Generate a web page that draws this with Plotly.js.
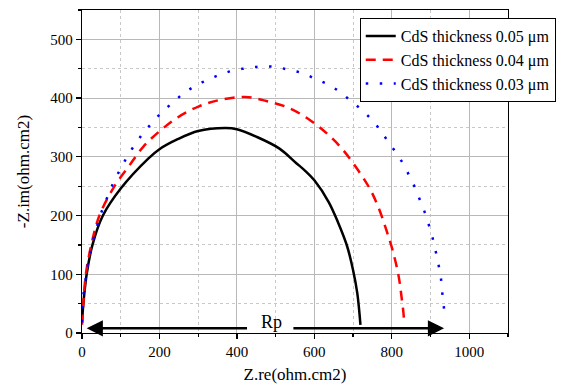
<!DOCTYPE html>
<html>
<head>
<meta charset="utf-8">
<script src="https://cdn.plot.ly/plotly-3.0.1.min.js"></script>
<style>html,body{margin:0;padding:0;background:#fff;}#chart{width:566px;height:385px;}</style>
</head>
<body>
<div id="chart"></div>
<script>
// Series names
const seriesNames = ["CdS thickness 0.05 \u03bcm", "CdS thickness 0.04 \u03bcm", "CdS thickness 0.03 \u03bcm"];

// 0.05 um (black, solid)
const zre05 = [0, 3.5, 12, 27, 54, 100, 171, 200, 247, 300, 370, 400, 451, 510, 552, 575, 600, 637, 662, 684, 700, 711, 719];
const zim05 = [17, 50, 100, 150, 200, 246, 297, 313, 330, 344, 349, 347, 334, 314, 290, 277, 260, 223, 187, 149, 107, 67, 14];

// 0.04 um (red, dashed)
const zre04 = [0, 3.5, 10, 24, 45, 84, 120, 158, 201, 247, 302, 357, 421, 476, 535, 590, 637, 675, 713, 743, 766, 786, 802, 817, 825, 831, 830];
const zim04 = [14, 50, 100, 150, 200, 250, 283, 317, 344, 367, 386, 397, 402, 395, 383, 362, 337, 311, 277, 246, 213, 175, 141, 99, 62, 25, 15];

// 0.03 um (blue, dotted)
const zre03 = [0, 1, 3, 8, 14, 20, 27, 36, 46, 58, 71, 85, 102, 118, 139, 160, 184, 209, 236, 262, 293, 324, 357, 391, 427, 463, 500, 535, 571, 605, 639, 671, 698, 726, 751, 773, 791, 812, 831, 847, 861, 874, 887, 897, 906, 914, 921, 927, 930, 934, 937];
const zim03 = [18, 40, 62, 85, 112, 131, 154, 175, 198, 219, 240, 262, 282, 302, 323, 342, 360, 378, 393, 408, 421, 431, 440, 447, 451, 454, 453, 448, 442, 432, 422, 408, 393, 378, 361, 343, 325, 306, 286, 265, 246, 224, 202, 181, 160, 137, 115, 92, 70, 47, 24];

// Rp arrow (data units)
const rpLeftTip = [12, 8], rpLeftTail = [430, 8];
const rpRightTip = [935, 8], rpRightTail = [542, 8];
const rpLabel = ["Rp", 490, 19];

const serif = "Liberation Serif, Times New Roman, DejaVu Serif, serif";

const traces = [
  {x: zre05, y: zim05, name: seriesNames[0], mode: 'lines', line: {color: '#000000', width: 2.5, shape: 'spline', smoothing: 1}},
  {x: zre04, y: zim04, name: seriesNames[1], mode: 'lines', line: {color: '#ff0000', width: 2.5, dash: '10px,7px', shape: 'spline', smoothing: 1}},
  {x: zre03, y: zim03, name: seriesNames[2], mode: 'lines', line: {color: '#0000ff', width: 2.5, dash: '2.5px,11.5px', shape: 'spline', smoothing: 1}}
];

function axis(title, range, major, minorStep) {
  return {
    title: {text: title, font: {family: serif, size: 17, color: '#000'}},
    range: range,
    dtick: major,
    tick0: 0,
    ticks: 'outside', ticklen: 5, tickwidth: 1.2, tickcolor: '#000',
    tickfont: {family: serif, size: 15, color: '#000'},
    showline: true, linecolor: '#000', linewidth: 1.3, mirror: true,
    showgrid: true, gridcolor: '#b8b8b8', gridwidth: 1,
    zeroline: false,
    minor: {dtick: minorStep, ticks: 'outside', ticklen: 3, tickcolor: '#000', showgrid: true, gridcolor: '#c8c8c8', griddash: 'dot', gridwidth: 1}
  };
}

const xax = axis('Z.re(ohm.cm2)', [0, 1100], 200, 100);
xax.title.standoff = 8;
const yax = axis('-Z.im(ohm.cm2)', [0, 550], 100, 50);
yax.title.standoff = 16;

const layout = {
  width: 566, height: 385,
  margin: {l: 82, r: 51, t: 10, b: 52},
  paper_bgcolor: '#fff', plot_bgcolor: '#fff',
  font: {family: serif, color: '#000'},
  xaxis: xax,
  yaxis: yax,
  showlegend: true,
  legend: {x: 0.652, y: 0.975, xanchor: 'left', yanchor: 'top', bgcolor: '#fff', bordercolor: '#000', borderwidth: 1,
           font: {family: serif, size: 16, color: '#000'}, tracegroupgap: 0},
  annotations: [
    {x: rpLeftTip[0], y: rpLeftTip[1], ax: rpLeftTail[0], ay: rpLeftTail[1], axref: 'x', ayref: 'y', xref: 'x', yref: 'y',
     text: '', showarrow: true, arrowhead: 2, arrowsize: 1.3, arrowwidth: 2.5, arrowcolor: '#000', standoff: 0, startstandoff: 0},
    {x: rpRightTip[0], y: rpRightTip[1], ax: rpRightTail[0], ay: rpRightTail[1], axref: 'x', ayref: 'y', xref: 'x', yref: 'y',
     text: '', showarrow: true, arrowhead: 2, arrowsize: 1.3, arrowwidth: 2.5, arrowcolor: '#000', standoff: 0, startstandoff: 0},
    {x: rpLabel[1], y: rpLabel[2], xref: 'x', yref: 'y', text: rpLabel[0], showarrow: false,
     font: {family: serif, size: 18, color: '#000'}, xanchor: 'center', yanchor: 'middle'}
  ]
};

Plotly.newPlot('chart', traces, layout, {displayModeBar: false, staticPlot: true});
</script>
</body>
</html>
